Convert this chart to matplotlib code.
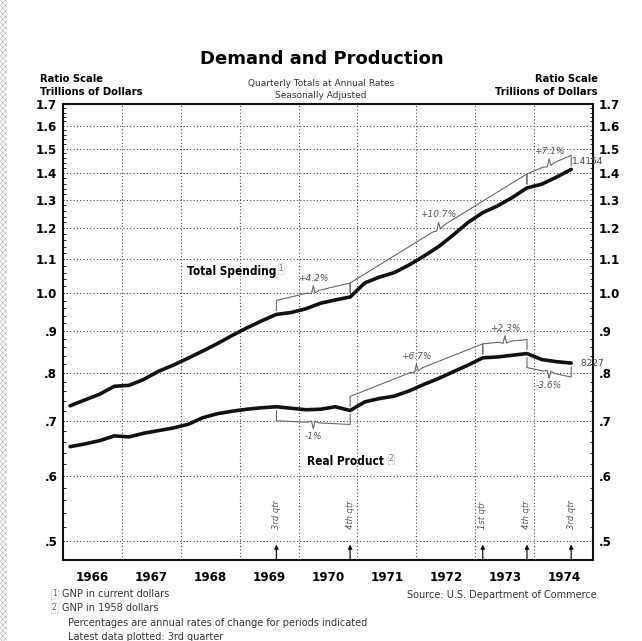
import numpy as np
import matplotlib
matplotlib.use('Agg')
import matplotlib.pyplot as plt
from matplotlib.patches import Rectangle
from matplotlib.ticker import FixedLocator, NullFormatter

years = [1966, 1967, 1968, 1969, 1970, 1971, 1972, 1973, 1974]

# quarterly totals at annual rates, trillions of dollars, 1966 Q1 .. 1974 Q3
total_spending = [0.730, 0.742, 0.754, 0.771, 0.773, 0.786, 0.804, 0.818,
                  0.834, 0.851, 0.869, 0.889, 0.908, 0.926, 0.943, 0.948,
                  0.958, 0.973, 0.982, 0.990, 1.030, 1.047, 1.060, 1.083,
                  1.110, 1.140, 1.178, 1.220, 1.254, 1.278, 1.308, 1.344,
                  1.358, 1.385, 1.4154]
real_product = [0.651, 0.656, 0.662, 0.671, 0.669, 0.676, 0.681, 0.686,
                0.693, 0.706, 0.714, 0.719, 0.723, 0.726, 0.728, 0.725,
                0.722, 0.723, 0.728, 0.7205, 0.738, 0.745, 0.750, 0.761,
                0.775, 0.788, 0.803, 0.818, 0.835, 0.837, 0.841, 0.845,
                0.831, 0.826, 0.8227]

y_ticks = [0.5, 0.6, 0.7, 0.8, 0.9, 1.0, 1.1, 1.2, 1.3, 1.4, 1.5, 1.6, 1.7]
y_tick_labels = ['.5', '.6', '.7', '.8', '.9', '1.0', '1.1', '1.2', '1.3',
                 '1.4', '1.5', '1.6', '1.7']

# (first quarter index, last quarter index, label, side of line)
spending_brackets = [(14, 19, '+4.2%', 'above'),
                     (19, 31, '+10.7%', 'above'),
                     (31, 34, '+7.1%', 'above')]
real_brackets = [(14, 19, '-1%', 'below'),
                 (19, 28, '+6.7%', 'above'),
                 (28, 31, '+2.3%', 'above'),
                 (31, 34, '-3.6%', 'below')]

# quarters marked with arrows along the bottom
marked_quarters = [(14, '3rd qtr'), (19, '4th qtr'), (28, '1st qtr'),
                   (31, '4th qtr'), (34, '3rd qtr')]

quarter_pos = [years[0] + (i + 0.5) / 4 for i in range(len(total_spending))]

narrow = dict(family='DejaVu Sans', fontstretch='condensed',
              fontweight='bold')
plt.rcParams['hatch.linewidth'] = 0.4

fig = plt.figure(figsize=(6.42, 6.41), dpi=100)
ax = fig.add_axes([62.7 / 642, 1 - 560 / 641, 530.6 / 642, 456 / 641])

ax.plot(quarter_pos, total_spending, color='#111111', lw=2.6,
        solid_capstyle='round', solid_joinstyle='round', zorder=5)
ax.plot(quarter_pos, real_product, color='#111111', lw=2.6,
        solid_capstyle='round', solid_joinstyle='round', zorder=5)

px = 357.0  # pixels per unit of ln(value) on this axis

ax.set_yscale('log')
ax.set_ylim(1.7 * np.exp(-456 / px), 1.7)
ax.set_xlim(years[0], years[-1] + 1)

ax.yaxis.set_major_locator(FixedLocator(y_ticks))
ax.set_yticklabels(y_tick_labels)
ax.yaxis.set_minor_locator(FixedLocator(np.arange(0.52, 1.7, 0.02)))
ax.yaxis.set_minor_formatter(NullFormatter())
ax.tick_params(axis='y', which='major', length=0, pad=4, labelright=True,
               labelsize=9.5)
ax.tick_params(axis='y', which='minor', direction='in', length=2.5,
               width=0.6, left=True, right=True)
for lab in ax.get_yticklabels():
    lab.set_family('DejaVu Sans')
    lab.set_stretch('condensed')
    lab.set_fontweight('bold')

ax.set_xticks([y + 0.5 for y in years])
ax.set_xticklabels([str(y) for y in years])
ax.xaxis.set_minor_locator(FixedLocator(years[1:]))
ax.tick_params(axis='x', which='both', length=0, pad=8, labelsize=9.5)
for lab in ax.get_xticklabels():
    lab.set_family('DejaVu Sans')
    lab.set_stretch('condensed')
    lab.set_fontweight('bold')

ax.yaxis.grid(True, which='major', color='#444444', lw=0.8,
              linestyle=(0, (1, 2)))
ax.xaxis.grid(True, which='minor', color='#444444', lw=0.8,
              linestyle=(0, (1, 2)))
ax.set_axisbelow(True)
for sp in ax.spines.values():
    sp.set_linewidth(1.5)
    sp.set_color('#111111')


def bracket(vals, i1, i2, label, side):
    t1, t2 = quarter_pos[i1], quarter_pos[i2]
    s = 1 if side == 'above' else -1
    near = np.exp(s * 4 / px)
    far = np.exp(s * 14 / px)
    l1, l2 = np.log(vals[i1] * far), np.log(vals[i2] * far)

    def on_line(t):
        return np.exp(np.interp(t, [t1, t2], [l1, l2]))

    tm = (t1 + t2) / 2
    tip = on_line(tm) * np.exp(s * 6 / px)
    xs = [t1, t1, tm - 0.1, tm - 0.03, tm, tm + 0.03, tm + 0.1, t2, t2]
    ys = [vals[i1] * near, on_line(t1), on_line(tm - 0.1),
          on_line(tm - 0.03) * np.exp(-s * 1.5 / px), tip,
          on_line(tm + 0.03) * np.exp(-s * 1.5 / px), on_line(tm + 0.1),
          on_line(t2), vals[i2] * near]
    ax.plot(xs, ys, color='#666666', lw=0.8, zorder=4)
    ax.text(tm, tip * np.exp(s * 3 / px), label, ha='center',
            va='bottom' if side == 'above' else 'top', fontsize=6.5,
            style='italic', color='#555555', zorder=6)


for i1, i2, label, side in spending_brackets:
    bracket(total_spending, i1, i2, label, side)
for i1, i2, label, side in real_brackets:
    bracket(real_product, i1, i2, label, side)

# latest values
ax.text(quarter_pos[-1] + 0.02, total_spending[-1] * np.exp(8 / px),
        '%.4f' % total_spending[-1], fontsize=6.5, color='#444444',
        va='center', ha='left', zorder=7)
ax.text(quarter_pos[-1] + 0.12, real_product[-1],
        ('%.4f' % real_product[-1])[1:], fontsize=6.5, color='#444444',
        va='center', ha='left', zorder=7)

# series names
ax.text(1968.1, 1.0645, 'Total Spending', fontsize=8.5, va='center',
        ha='left', **narrow)
ax.text(1969.66, 1.072, '1', fontsize=5.5, color='#777777', va='center',
        bbox=dict(boxstyle='square,pad=0.1', fc='none', ec='#999999',
                  lw=0.5, ls=':'))
ax.text(1970.14, 0.6252, 'Real Product', fontsize=8.5, va='center',
        ha='left', **narrow)
ax.text(1971.53, 0.629, '2', fontsize=5.5, color='#777777', va='center',
        bbox=dict(boxstyle='square,pad=0.1', fc='none', ec='#999999',
                  lw=0.5, ls=':'))

# quarter arrows along the bottom
trans = ax.get_xaxis_transform()
for i, lab in marked_quarters:
    t = quarter_pos[i]
    ax.annotate('', xy=(t, 0.034), xytext=(t, 0.0), xycoords=trans,
                textcoords=trans,
                arrowprops=dict(arrowstyle='-|>', lw=0.9, color='#111111',
                                mutation_scale=6, shrinkA=0, shrinkB=0))
    ax.text(t, 0.099, lab, transform=trans, rotation=90, ha='center',
            va='center', fontsize=6, style='italic', color='#555555')

# headings
fig.text(0.502, 1 - 59 / 641, 'Demand and Production', ha='center',
         va='center', fontsize=13, fontweight='bold')
fig.text(40 / 642, 1 - 78.5 / 641, 'Ratio Scale', ha='left', va='center',
         fontsize=8, **narrow)
fig.text(40 / 642, 1 - 92 / 641, 'Trillions of Dollars', ha='left',
         va='center', fontsize=8, **narrow)
fig.text(598 / 642, 1 - 78.5 / 641, 'Ratio Scale', ha='right', va='center',
         fontsize=8, **narrow)
fig.text(598 / 642, 1 - 92 / 641, 'Trillions of Dollars', ha='right',
         va='center', fontsize=8, **narrow)
fig.text(0.5, 1 - 83 / 641, 'Quarterly Totals at Annual Rates',
         ha='center', va='center', fontsize=6.5, color='#333333')
fig.text(0.5, 1 - 95 / 641, 'Seasonally Adjusted', ha='center',
         va='center', fontsize=6.5, color='#333333')

# footnotes
box = dict(boxstyle='square,pad=0.1', fc='none', ec='#999999', lw=0.5,
           ls=':')
fig.text(52 / 642, 1 - 594 / 641, '1', fontsize=5.5, color='#666666',
         va='center', bbox=box)
fig.text(62 / 642, 1 - 594 / 641, 'GNP in current dollars', fontsize=7,
         va='center', color='#333333')
fig.text(52 / 642, 1 - 608 / 641, '2', fontsize=5.5, color='#666666',
         va='center', bbox=box)
fig.text(62 / 642, 1 - 608 / 641, 'GNP in 1958 dollars', fontsize=7,
         va='center', color='#333333')
fig.text(68 / 642, 1 - 623 / 641,
         'Percentages are annual rates of change for periods indicated',
         fontsize=7, va='center', color='#333333')
fig.text(68 / 642, 1 - 637 / 641, 'Latest data plotted: 3rd quarter',
         fontsize=7, va='center', color='#333333')
fig.text(597 / 642, 1 - 595 / 641, 'Source: U.S. Department of Commerce',
         fontsize=7, va='center', ha='right', color='#333333')

# scanned page edge on the left
fig.patches.append(Rectangle((0, 0), 7 / 642, 1, transform=fig.transFigure,
                             facecolor='white', edgecolor='#b0b0b0',
                             hatch='xxxxxx', lw=0))

fig.savefig('out.png', dpi=100)
